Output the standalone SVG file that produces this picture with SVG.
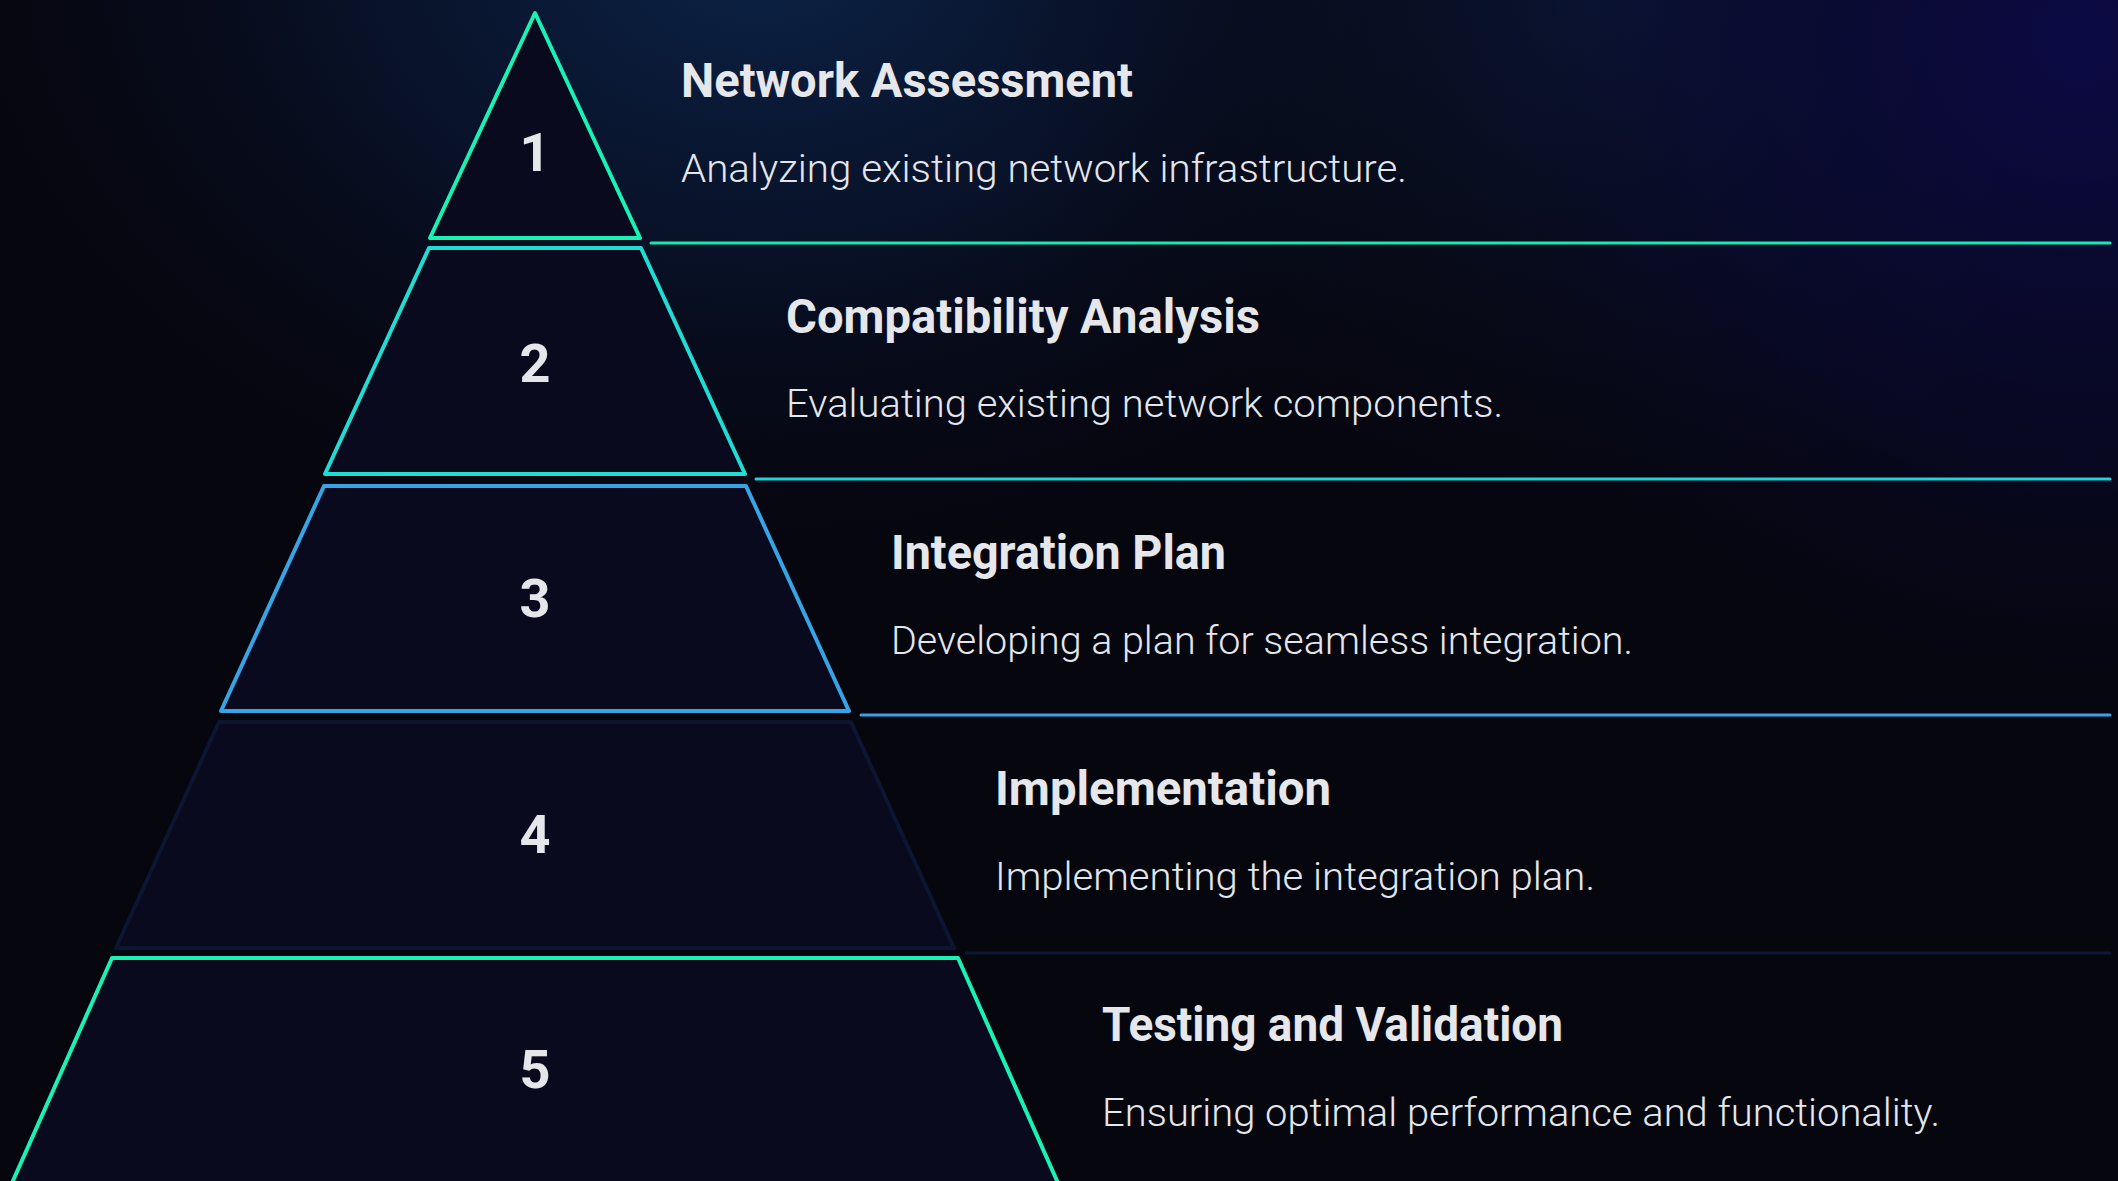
<svg xmlns="http://www.w3.org/2000/svg" width="2118" height="1181" viewBox="0 0 2118 1181">
  <defs>
    <radialGradient id="glowA" cx="760" cy="-60" r="900" gradientUnits="userSpaceOnUse" gradientTransform="translate(760 -60) scale(1 0.75) translate(-760 60)">
      <stop offset="0" stop-color="#0c2448" stop-opacity="1"/>
      <stop offset="0.45" stop-color="#0a1a3a" stop-opacity="0.6"/>
      <stop offset="1" stop-color="#06060f" stop-opacity="0"/>
    </radialGradient>
    <radialGradient id="glowB" cx="2080" cy="40" r="760" gradientUnits="userSpaceOnUse">
      <stop offset="0" stop-color="#0c0a44" stop-opacity="1"/>
      <stop offset="0.5" stop-color="#0a0a36" stop-opacity="0.55"/>
      <stop offset="1" stop-color="#06060f" stop-opacity="0"/>
    </radialGradient>
    <radialGradient id="glowC" cx="1600" cy="0" r="600" gradientUnits="userSpaceOnUse">
      <stop offset="0" stop-color="#0c1c3c" stop-opacity="0.9"/>
      <stop offset="1" stop-color="#06060f" stop-opacity="0"/>
    </radialGradient>
    <style>
      .tier { fill: #0a0a1e; stroke-width: 4; stroke-linejoin: round; }
      .num { font-family: Roboto, "Liberation Sans", sans-serif; font-weight: 700; font-size: 54px; fill: #e4e6ea; text-anchor: middle; }
      .title { font-family: Roboto, "Liberation Sans", sans-serif; font-weight: 700; font-size: 47.5px; fill: #e5e7eb; }
      .desc { font-family: Roboto, "Liberation Sans", sans-serif; font-weight: 300; font-size: 38.5px; fill: #e3e6ec; }
      .conn { stroke-width: 3; stroke-linecap: round; fill: none; }
    </style>
  </defs>

  <rect x="0" y="0" width="2118" height="1181" fill="#06060f"/>
  <rect x="0" y="0" width="2118" height="1181" fill="url(#glowA)"/>
  <rect x="0" y="0" width="2118" height="1181" fill="url(#glowC)"/>
  <rect x="0" y="0" width="2118" height="1181" fill="url(#glowB)"/>

  <g id="connectors">
    <line class="conn" x1="651" y1="243" x2="2110" y2="243" stroke="#19e8b2"/>
    <line class="conn" x1="756" y1="479" x2="2110" y2="479" stroke="#22d2d6"/>
    <line class="conn" x1="861" y1="715" x2="2110" y2="715" stroke="#3aa2e4"/>
    <line class="conn" x1="966" y1="953" x2="2110" y2="953" stroke="#0d1836"/>
  </g>

  <g id="tier1">
    <polygon class="tier" points="535,13 640,238 430,238" stroke="#19f2b4"/>
    <text class="num" x="535" y="171">1</text>
    <text class="title" x="681" y="97" textLength="452" lengthAdjust="spacingAndGlyphs">Network Assessment</text>
    <text class="desc" x="681" y="182" textLength="726" lengthAdjust="spacingAndGlyphs">Analyzing existing network infrastructure.</text>
  </g>

  <g id="tier2">
    <polygon class="tier" points="429,248 641,248 745,474 325,474" stroke="#21dcd2"/>
    <text class="num" x="535" y="382">2</text>
    <text class="title" x="786" y="333" textLength="474" lengthAdjust="spacingAndGlyphs">Compatibility Analysis</text>
    <text class="desc" x="786" y="417" textLength="717" lengthAdjust="spacingAndGlyphs">Evaluating existing network components.</text>
  </g>

  <g id="tier3">
    <polygon class="tier" points="324,486 746,486 849,711 221,711" stroke="#37a4e6"/>
    <text class="num" x="535" y="617">3</text>
    <text class="title" x="891" y="569" textLength="335" lengthAdjust="spacingAndGlyphs">Integration Plan</text>
    <text class="desc" x="891" y="654" textLength="742" lengthAdjust="spacingAndGlyphs">Developing a plan for seamless integration.</text>
  </g>

  <g id="tier4">
    <polygon class="tier" points="219,722 851,722 954,948 116,948" stroke="#0c1632"/>
    <text class="num" x="535" y="853">4</text>
    <text class="title" x="995" y="805" textLength="336" lengthAdjust="spacingAndGlyphs">Implementation</text>
    <text class="desc" x="995" y="890" textLength="600" lengthAdjust="spacingAndGlyphs">Implementing the integration plan.</text>
  </g>

  <g id="tier5">
    <polygon class="tier" points="112,958 958,958 1062,1192 8,1192" stroke="#19f2b4"/>
    <text class="num" x="535" y="1088">5</text>
    <text class="title" x="1102" y="1041" textLength="461" lengthAdjust="spacingAndGlyphs">Testing and Validation</text>
    <text class="desc" x="1102" y="1126" textLength="838" lengthAdjust="spacingAndGlyphs">Ensuring optimal performance and functionality.</text>
  </g>
</svg>
